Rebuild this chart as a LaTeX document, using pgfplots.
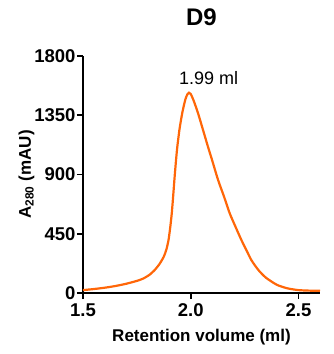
\documentclass[border=0pt]{standalone}
\usepackage{fontspec}
\setmainfont{Liberation Sans}
\usepackage{pgfplots}
\pgfplotsset{compat=1.18}
\definecolor{curve}{HTML}{FF6608}
\begin{document}
\begin{tikzpicture}
\begin{axis}[name=ax,
  scale only axis, width=237pt, height=237pt,
  xmin=1.5, xmax=2.6, ymin=0, ymax=1800,
  axis lines*=left, axis line style={line width=1.6pt, -},
  xtick={1.5,2.0,2.5}, ytick={0,450,900,1350,1800},
  xticklabels={1.5,2.0,2.5},
  tick style={line width=1.6pt, black},
  tick align=outside, major tick length=6pt,
  /pgf/number format/assume math mode=true,
  /pgf/number format/1000 sep={},
  ticklabel style={font=\fontsize{18.5}{21}\selectfont\bfseries},
  yticklabel style={xshift=2pt},
  xticklabel style={yshift=-1.5pt},
  every axis x label/.style={at={([yshift=-48pt]axis description cs:0.5,0)}, anchor=base},
  every axis y label/.style={at={([xshift=-52pt]axis description cs:0,0.5)}, rotate=90, anchor=base},
  xlabel={\textbf{Retention volume (ml)}},
  ylabel={\textbf{A\textsubscript{280} (mAU)}},
  label style={font=\fontsize{17}{20}\selectfont},
  title={\textbf{D9}},
  title style={font=\fontsize{24}{28}\selectfont, at={([yshift=25pt]axis description cs:0.5,1)}, anchor=base},
  clip=false,
]
\addplot[curve, line width=2.2pt, smooth, tension=0.4] coordinates {
(1.5,22) (1.55,30) (1.6,40) (1.65,53) (1.7,70) (1.75,92) (1.78,110)
(1.81,140) (1.833,175) (1.855,220) (1.875,276) (1.887,330) (1.897,403)
(1.905,500) (1.912,605) (1.918,725) (1.924,855) (1.93,975) (1.937,1100)
(1.948,1245) (1.961,1370) (1.975,1470) (1.985,1510) (1.992,1521)
(2.0,1512) (2.015,1455) (2.034,1365) (2.055,1250) (2.08,1111) (2.1,1005)
(2.127,858) (2.155,730) (2.181,605) (2.21,495) (2.235,403) (2.26,320)
(2.281,251) (2.3,205) (2.319,165) (2.35,115) (2.4,62) (2.45,35)
(2.5,22) (2.55,18) (2.6,17)
};
\node[font=\fontsize{18}{21}\selectfont] at (axis cs:2.083,1633) {1.99 ml};
\end{axis}
\pgfresetboundingbox
\path (ax.south west) ++(-83pt,-61pt) rectangle ++(334pt,354pt);
\end{tikzpicture}
\end{document}
